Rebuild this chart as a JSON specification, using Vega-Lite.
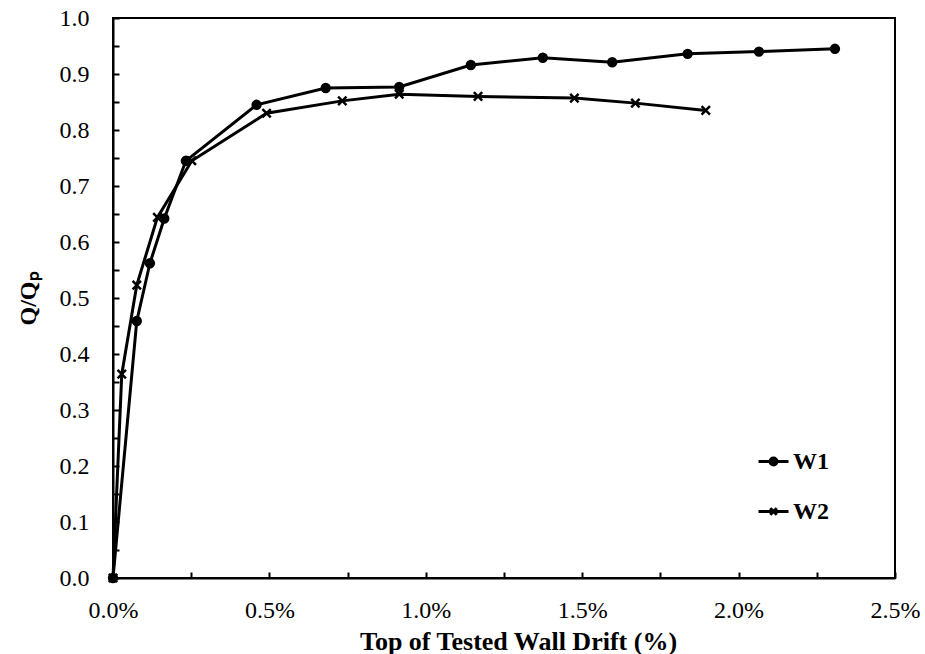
{
  "$schema": "https://vega.github.io/schema/vega-lite/v6.json",
  "width": 782,
  "height": 560,
  "autosize": "none",
  "padding": {"left": 113, "top": 18, "right": 30, "bottom": 76},
  "background": "white",
  "config": {
    "view": {"stroke": "black", "strokeWidth": 2},
    "font": "Liberation Serif",
    "axis": {
      "grid": false,
      "zindex": 1,
      "domainColor": "black",
      "domainWidth": 2,
      "tickColor": "black",
      "tickWidth": 2,
      "tickSize": -6,
      "labelFont": "Liberation Serif",
      "labelFontSize": 24,
      "labelColor": "black",
      "labelOverlap": false,
      "labelFlush": false,
      "titleFont": "Liberation Serif",
      "titleFontSize": 24,
      "titleFontWeight": "bold",
      "titleColor": "black"
    }
  },
  "data": {
    "values": [
      {"series": "W1", "drift": 0.0, "q": 0.0},
      {"series": "W1", "drift": 0.076, "q": 0.459},
      {"series": "W1", "drift": 0.118, "q": 0.562},
      {"series": "W1", "drift": 0.164, "q": 0.642},
      {"series": "W1", "drift": 0.233, "q": 0.745},
      {"series": "W1", "drift": 0.459, "q": 0.845},
      {"series": "W1", "drift": 0.68, "q": 0.875},
      {"series": "W1", "drift": 0.915, "q": 0.877},
      {"series": "W1", "drift": 1.144, "q": 0.916},
      {"series": "W1", "drift": 1.374, "q": 0.929},
      {"series": "W1", "drift": 1.596, "q": 0.921},
      {"series": "W1", "drift": 1.837, "q": 0.936},
      {"series": "W1", "drift": 2.065, "q": 0.94},
      {"series": "W1", "drift": 2.308, "q": 0.945},
      {"series": "W2", "drift": 0.0, "q": 0.0},
      {"series": "W2", "drift": 0.028, "q": 0.364},
      {"series": "W2", "drift": 0.076, "q": 0.523},
      {"series": "W2", "drift": 0.142, "q": 0.644},
      {"series": "W2", "drift": 0.252, "q": 0.745},
      {"series": "W2", "drift": 0.491, "q": 0.83},
      {"series": "W2", "drift": 0.733, "q": 0.852},
      {"series": "W2", "drift": 0.915, "q": 0.864},
      {"series": "W2", "drift": 1.167, "q": 0.86},
      {"series": "W2", "drift": 1.475, "q": 0.857},
      {"series": "W2", "drift": 1.67, "q": 0.848},
      {"series": "W2", "drift": 1.895, "q": 0.835}
    ]
  },
  "encoding": {
    "x": {
      "field": "drift",
      "type": "quantitative",
      "scale": {"domain": [0, 2.5], "nice": false, "zero": false},
      "axis": {
        "title": "Top of Tested Wall Drift (%)",
        "titleFontSize": 26,
        "titleX": 405,
        "titleAlign": "center",
        "values": [0, 0.25, 0.5, 0.75, 1.0, 1.25, 1.5, 1.75, 2.0, 2.25, 2.5],
        "labelExpr": "round(datum.value*4) % 2 == 0 ? format(datum.value, '.1f') + '%' : ''",
        "labelPadding": 26,
        "titlePadding": 6
      }
    },
    "y": {
      "field": "q",
      "type": "quantitative",
      "scale": {"domain": [0, 1], "nice": false},
      "axis": {
        "title": "Q/Qₚ",
        "values": [0, 0.05, 0.1, 0.15, 0.2, 0.25, 0.3, 0.35, 0.4, 0.45, 0.5, 0.55, 0.6, 0.65, 0.7, 0.75, 0.8, 0.85, 0.9, 0.95, 1.0],
        "labelExpr": "round(datum.value*20) % 2 == 0 ? format(datum.value, '.1f') : ''",
        "labelPadding": 30,
        "titlePadding": 19
      }
    }
  },
  "layer": [
    {
      "mark": {"type": "line", "color": "black", "strokeWidth": 3},
      "encoding": {"detail": {"field": "series", "type": "nominal"}}
    },
    {
      "mark": {"type": "point", "filled": true, "fill": "black", "stroke": "black", "strokeWidth": 2.5, "opacity": 1},
      "encoding": {
        "shape": {
          "field": "series",
          "type": "nominal",
          "scale": {"domain": ["W1", "W2"], "range": ["circle", "M-1,-1L1,1M-1,1L1,-1"]},
          "legend": null
        },
        "size": {
          "field": "series",
          "type": "nominal",
          "scale": {"domain": ["W1", "W2"], "range": [62, 70]},
          "legend": null
        }
      }
    },
    {
      "data": {"values": []},
      "mark": {"type": "point", "filled": false, "stroke": "black", "strokeWidth": 3, "opacity": 1},
      "encoding": {
        "x": null,
        "y": null,
        "shape": {
          "field": "series",
          "type": "nominal",
          "scale": {
            "domain": ["W1", "W2"],
            "range": [
              "M-1,0L1,0M-0.23,0A0.23,0.23 0 1,0 0.23,0A0.23,0.23 0 1,0 -0.23,0ZM-0.07,0A0.07,0.07 0 1,0 0.07,0A0.07,0.07 0 1,0 -0.07,0Z",
              "M-1,0L1,0M-0.22,-0.22L0.22,0.22M-0.22,0.22L0.22,-0.22"
            ]
          },
          "legend": {
            "title": null,
            "orient": "none",
            "legendX": 644,
            "legendY": 427,
            "padding": 0,
            "symbolSize": 900,
            "symbolStrokeWidth": 3,
            "symbolStrokeColor": "black",
            "symbolOpacity": 1,
            "labelFont": "Liberation Serif",
            "labelFontSize": 24,
            "labelFontWeight": "bold",
            "labelColor": "black",
            "labelOffset": 3,
            "rowPadding": 21
          }
        }
      }
    }
  ],
  "resolve": {"scale": {"shape": "independent", "size": "independent"}, "legend": {"shape": "independent"}}
}
